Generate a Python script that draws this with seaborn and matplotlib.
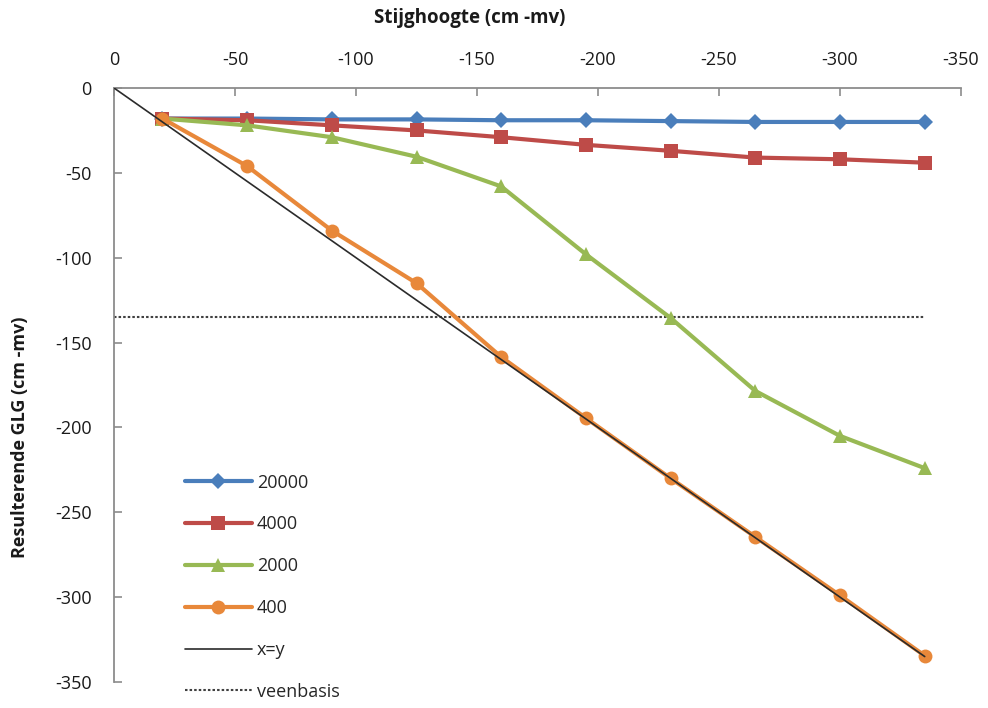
import matplotlib
matplotlib.use("Agg")
import matplotlib.pyplot as plt
import seaborn as sns
import pandas as pd
from matplotlib.lines import Line2D

# Stijghoogte (cm -mv) per scenario
stijghoogte = [-20, -55, -90, -125, -160, -195, -230, -265, -300, -335]

# Resulterende GLG (cm -mv) per weerstand
glg_20000 = [-18, -18, -18.5, -18.5, -19, -19, -19.5, -20, -20, -20]
glg_4000 = [-18, -19, -22, -25, -29, -33.5, -37, -41, -42, -44]
glg_2000 = [-18, -22, -29, -40.5, -58, -98, -135.5, -178.5, -205, -224]
glg_400 = [-18, -46, -84, -115, -158.5, -194.5, -230, -264.5, -299, -334.5]

series_labels = ["20000", "4000", "2000", "400"]
series_values = [glg_20000, glg_4000, glg_2000, glg_400]
colors = ["#4A7EBB", "#BE4B48", "#98B954", "#E8883A"]
markers = ["D", "s", "^", "o"]
marker_sizes = [8, 10, 10, 10]

diag_x = [0, -335]
veenbasis_y = -135
veenbasis_x = [0, -335]

sns.set_theme(style="white")
plt.rcParams["font.family"] = ["Open Sans", "DejaVu Sans"]
plt.rcParams["axes.unicode_minus"] = False

fig = plt.figure(figsize=(9.88, 7.08), dpi=100)
ax = fig.add_axes([0.1154, 0.0367, 0.8573, 0.839])

df = pd.DataFrame({
    "x": stijghoogte * len(series_labels),
    "y": [v for vals in series_values for v in vals],
    "reeks": [lab for lab in series_labels for _ in stijghoogte],
})

handles = []
for lab, col, mk, ms in zip(series_labels, colors, markers, marker_sizes):
    sub = df[df["reeks"] == lab]
    sns.lineplot(data=sub, x="x", y="y", ax=ax, color=col, linewidth=3.0,
                 marker=mk, markersize=ms, markeredgewidth=0, sort=False,
                 legend=False, zorder=3)
    handles.append(Line2D([], [], color=col, lw=3.0, marker=mk,
                          markersize=ms, markeredgewidth=0, label=lab))

# x = y reference line
ax.plot(diag_x, diag_x, color="#2b2b2b", lw=1.2, zorder=4)
handles.append(Line2D([], [], color="#2b2b2b", lw=1.2, label="x=y"))

# veenbasis
ax.plot(veenbasis_x, [veenbasis_y, veenbasis_y], color="#404040", lw=1.5,
        linestyle=(0, (1.2, 1.0)), zorder=2)
handles.append(Line2D([], [], color="#404040", lw=1.5,
                      linestyle=(0, (1.2, 1.0)), label="veenbasis"))

ax.set_xlim(0, -350)
ax.set_ylim(-350, 0)
ax.set_xticks(range(0, -351, -50))
ax.set_yticks(range(0, -351, -50))
ax.xaxis.tick_top()
ax.xaxis.set_label_position("top")

for side in ["right", "bottom"]:
    ax.spines[side].set_visible(False)
for side in ["left", "top"]:
    ax.spines[side].set_color("#8c8c8c")
    ax.spines[side].set_linewidth(1.3)

ax.tick_params(axis="both", direction="in", length=6, width=1.2,
               color="#8c8c8c", labelsize=13, labelcolor="#1a1a1a")
ax.tick_params(axis="x", pad=14, top=True, bottom=False)
ax.tick_params(axis="y", pad=16, left=True)

ax.set_xlabel("Stijghoogte (cm -mv)", fontsize=13.5, fontweight="bold",
              color="#1a1a1a")
ax.set_ylabel("Resulterende GLG (cm -mv)", fontsize=13, fontweight="bold",
              color="#1a1a1a")
ax.xaxis.set_label_coords(0.42, 1.118)
ax.yaxis.set_label_coords(-0.111, 0.412)
ax.xaxis.label.set_verticalalignment("center")
ax.yaxis.label.set_verticalalignment("center")
ax.set_facecolor("white")

leg = ax.legend(handles=handles, loc="upper left",
                bbox_to_anchor=(0.075, 0.363), frameon=False,
                fontsize=13, handlelength=3.7, labelspacing=1.32,
                handletextpad=0.3, borderaxespad=0)

fig.savefig("out.png", dpi=100, facecolor="white")
